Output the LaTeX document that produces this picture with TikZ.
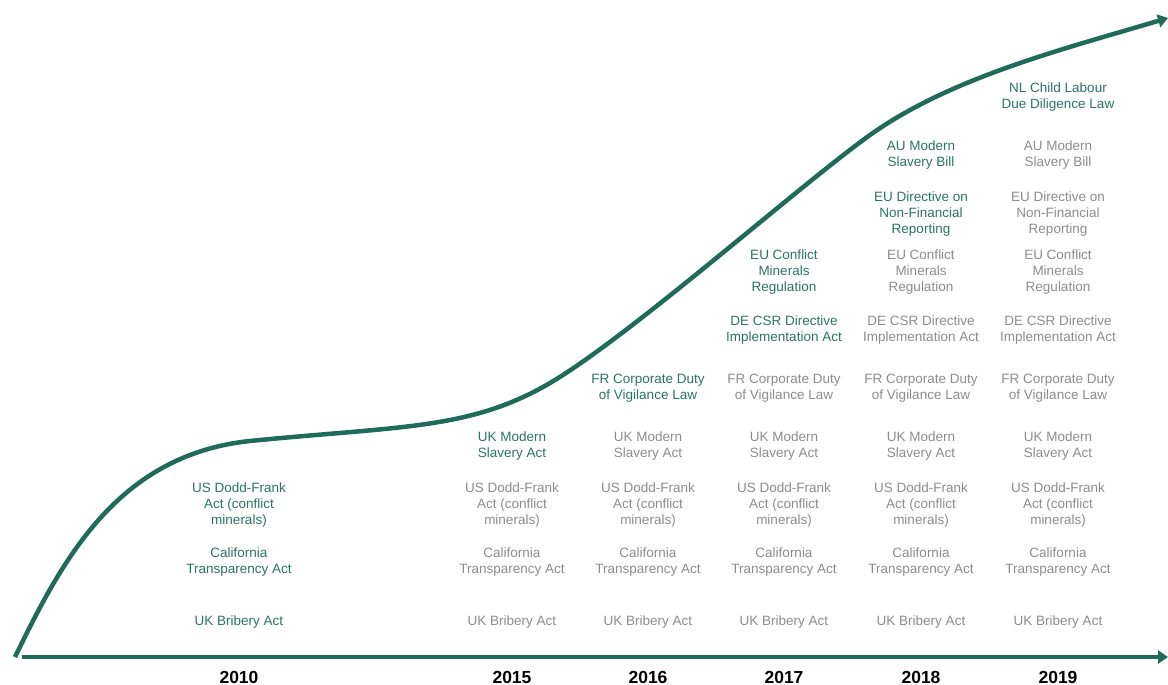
\documentclass[tikz,border=0pt]{standalone}
\usepackage{fontspec}
\setmainfont{Liberation Sans}
\usepackage{tikz}
\usetikzlibrary{arrows.meta}

\definecolor{trendgreen}{HTML}{1F6A59}
\definecolor{lawgreen}{HTML}{2A7462}
\definecolor{lawgray}{HTML}{8C8C8C}

\tikzset{
  oldlaw/.style={text=lawgray, align=center, font=\fontsize{13.5}{16}\selectfont},
  newlaw/.style={oldlaw, text=lawgreen},
  yearlabel/.style={font=\fontsize{17.5}{20}\selectfont\bfseries},
  trend/.style={line width=4.5pt, trendgreen, -{Triangle[length=10pt,width=13pt]}}
}

\begin{document}
\begin{tikzpicture}[x=1pt,y=-1pt]
\useasboundingbox (0,0) rectangle (1168,685);
\coordinate (axisstart) at (22,657);
\coordinate (axisend) at (1168,657);
\coordinate (curvestart) at (15,657);
\coordinate (curveend) at (1168,18);
\draw[trend] (axisstart) -- (axisend);
\draw[trend] (curvestart) .. controls (60,565) and (115,455) .. (250,441)
    .. controls (400,426) and (470,430) .. (550,383)
    .. controls (630,336) and (800,185) .. (870,135)
    .. controls (950,78) and (1060,50) .. (curveend);
% years along the axis
\foreach \yr [count=\c] in {2010,2015,2016,2017,2018,2019} {
    \pgfmathsetmacro{\cx}{{239,512,648,784,921,1058}[\c-1]}
    \node[yearlabel] (y\yr) at (\cx,677) {\yr};
}
% laws: green in the year they came, grey after that
\foreach \lname/\ly/\lfirst/\ltext in {
    bribery/622/1/{UK Bribery Act},
    california/562/1/{California\\Transparency Act},
    doddfrank/505/1/{US Dodd-Frank\\Act (conflict\\minerals)},
    ukslavery/446/2/{UK Modern\\Slavery Act},
    vigilance/388/3/{FR Corporate Duty\\of Vigilance Law},
    csr/330/4/{DE CSR Directive\\Implementation Act},
    minerals/272/4/{EU Conflict\\Minerals\\Regulation},
    nfr/214/5/{EU Directive on\\Non-Financial\\Reporting},
    auslavery/155/5/{AU Modern\\Slavery Bill},
    childlabour/97/6/{NL Child Labour\\Due Diligence Law}} {
    \foreach \c in {\lfirst,...,6} {
        \pgfmathsetmacro{\cx}{{239,512,648,784,921,1058}[\c-1]}
        \ifnum\c=\lfirst
            \node[newlaw] (\lname-\c) at (\cx,\ly) {\ltext};
        \else
            \node[oldlaw] (\lname-\c) at (\cx,\ly) {\ltext};
        \fi
    }
}
\end{tikzpicture}
\end{document}
